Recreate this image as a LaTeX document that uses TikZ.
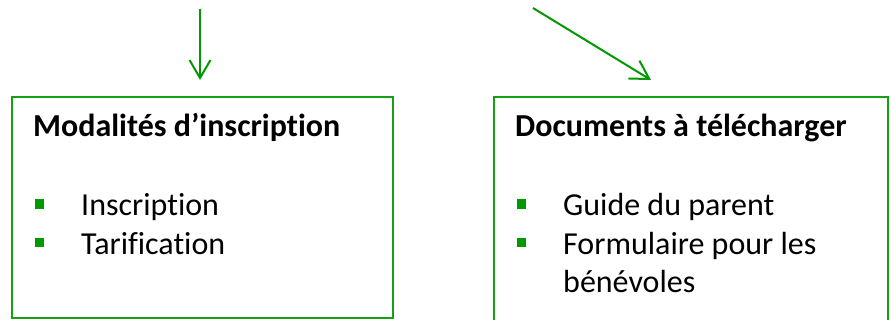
\documentclass[tikz,border=0pt]{standalone}
\usepackage{fontspec}
\setmainfont[Ligatures=NoCommon]{Carlito}
\usetikzlibrary{arrows.meta}
\definecolor{boxgreen}{RGB}{22,160,22}
\definecolor{dotgreen}{RGB}{0,153,0}
\begin{document}
\begin{tikzpicture}[x=1pt, y=-1pt,
  frame/.style={draw=boxgreen, line width=2.2pt, anchor=north west, inner sep=0pt},
  head/.style={anchor=base west, inner sep=0pt, font=\fontsize{32}{38.5}\selectfont\bfseries},
  item/.style={anchor=base west, inner sep=0pt, align=left, font=\fontsize{32}{38.5}\selectfont},
  dot/.style={fill=dotgreen, minimum size=9.5pt, inner sep=0pt},
  link/.style={draw=dotgreen, line width=2pt, -{Straight Barb[length=18pt, width=21pt, line width=2pt]}}]
\clip (0,0) rectangle (892,320);

\node[frame, minimum width=381pt, minimum height=221pt] (modbox) at (11,96) {};
\node[frame, minimum width=394pt, minimum height=240pt] (docbox) at (493,96) {};

\node[head] (modtitle) at (33,137) {Modalités d’inscription};
\node[item] (inscr) at (81,216) {Inscription};
\node[item] (tarif) at (81,254.5) {Tarification};
\node[dot] (dotA) at (39.5,204) {};
\node[dot] (dotB) at (39.5,242.5) {};

\node[head] (doctitle) at (515,137) {Documents à télécharger};
\node[item] (guide) at (563,216) {Guide du parent};
\node[item] (formu) at (563,293) {Formulaire pour les\\bénévoles};
\node[dot] (dotC) at (521.5,204) {};
\node[dot] (dotD) at (521.5,242.5) {};

\coordinate (fromA) at (200,9);
\coordinate (toA) at (200,80);
\coordinate (fromB) at (533,8);
\coordinate (toB) at (651,80);
\draw[link] (fromA) -- (toA);
\draw[link] (fromB) -- (toB);
\end{tikzpicture}
\end{document}
